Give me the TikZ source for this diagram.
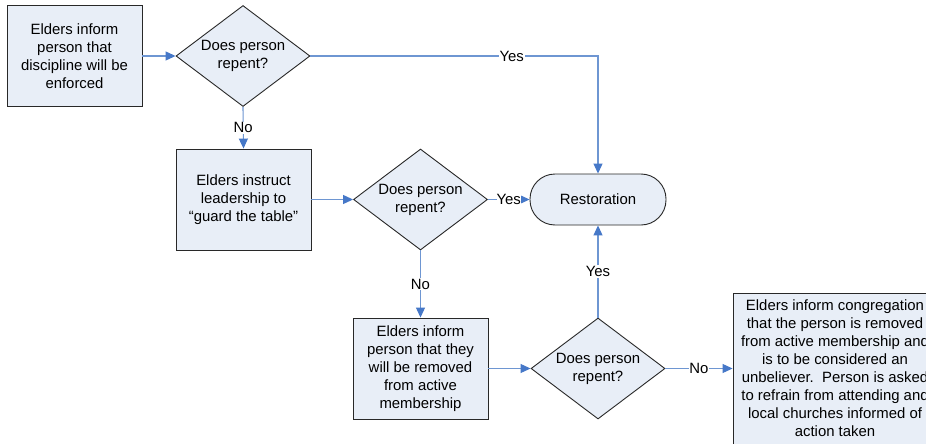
\documentclass[tikz,border=0pt]{standalone}
\usepackage{fontspec}
\setmainfont{Liberation Sans}
\usetikzlibrary{shapes.geometric,arrows.meta}
\definecolor{boxfill}{RGB}{232,238,247}
\definecolor{boxline}{RGB}{40,40,40}
\definecolor{conn}{RGB}{110,150,210}
\definecolor{tipc}{RGB}{70,120,200}
\tikzset{
  base/.style={draw=boxline,fill=boxfill,line width=0.9pt,align=center,
    font=\fontsize{14.9}{18}\selectfont,inner sep=0pt},
  procbox/.style={base,rectangle,minimum width=135pt,minimum height=101pt},
  decbox/.style={base,diamond,aspect=1.33,minimum width=134pt,minimum height=101pt},
  termbox/.style={base,rectangle,rounded corners=25pt,minimum width=136pt,minimum height=51pt},
  link/.style={draw=conn,line width=1.1pt,-{Triangle[length=10pt,width=9pt,color=tipc]}},
  lbl/.style={fill=white,inner sep=1pt,font=\fontsize{14.9}{18}\selectfont}
}
\begin{document}
\begin{tikzpicture}[x=1pt,y=-1pt]
\useasboundingbox (0,0) rectangle (926,444);
\clip (0,0) rectangle (926,444);
\fill[white] (0,0) rectangle (926,444);
\node[procbox] (b1) at (74.5,56) {Elders inform\\person that\\discipline will be\\enforced};
\node[decbox] (d1) at (243,56) {Does person\\repent?};
\node[procbox] (b2) at (243.5,199.5) {Elders instruct\\leadership to\\“guard the table”};
\node[decbox] (d2) at (420.5,199.5) {Does person\\repent?};
\node[termbox] (rest) at (598,199.5) {Restoration};
\node[procbox] (b3) at (420.5,368.5) {Elders inform\\person that they\\will be removed\\from active\\membership};
\node[decbox] (d3) at (598,368.5) {Does person\\repent?};
\node[procbox,minimum width=204pt,minimum height=151pt] (b4) at (835,368.5) {Elders inform congregation\\that the person is removed\\from active membership and\\is to be considered an\\unbeliever.\ \ Person is asked\\to refrain from attending and\\local churches informed of\\action taken};
\draw[link] (b1.east) -- (d1.west);
\draw[link] (d1.east) -| node[lbl,pos=0.35] {Yes} (rest.north);
\draw[link] (d1.south) -- node[lbl] {No} (b2.north);
\draw[link] (b2.east) -- (d2.west);
\draw[link] (d2.east) -- node[lbl,inner sep=0pt] {Yes} (rest.west);
\draw[link] (d2.south) -- node[lbl] {No} (b3.north);
\draw[link] (b3.east) -- (d3.west);
\draw[link] (d3.north) -- node[lbl] {Yes} (rest.south);
\draw[link] (d3.east) -- node[lbl,inner sep=0pt] {No} (b4.west);
\end{tikzpicture}
\end{document}
